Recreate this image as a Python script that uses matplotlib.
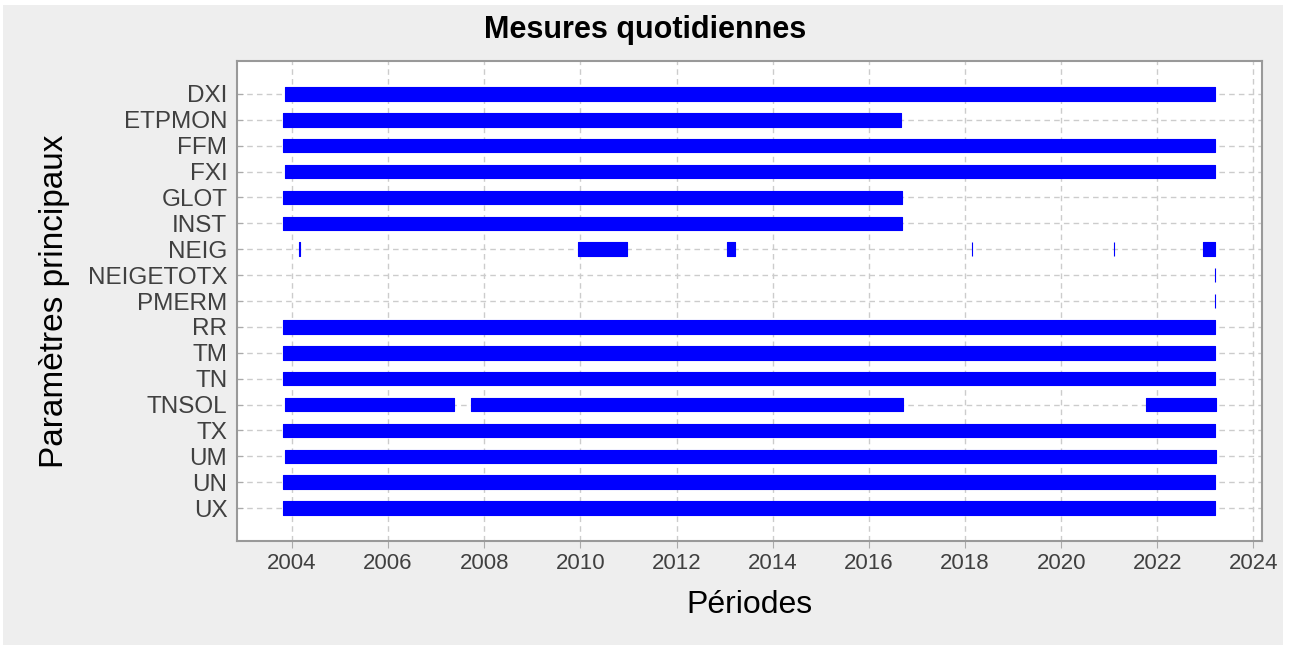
import matplotlib
matplotlib.use("Agg")
import matplotlib.pyplot as plt
import matplotlib.dates as mdates
from matplotlib.patches import Rectangle
from datetime import datetime

plt.rcParams['font.family'] = ['Liberation Sans', 'DejaVu Sans']

# parametres et periodes de mesure (debut, fin)
parametres = ['DXI', 'ETPMON', 'FFM', 'FXI', 'GLOT', 'INST', 'NEIG', 'NEIGETOTX',
              'PMERM', 'RR', 'TM', 'TN', 'TNSOL', 'TX', 'UM', 'UN', 'UX']

periodes = [
    [('2003-11-10', '2023-03-14')],
    [('2003-10-27', '2016-09-01')],
    [('2003-10-27', '2023-03-14')],
    [('2003-11-10', '2023-03-14')],
    [('2003-10-27', '2016-09-09')],
    [('2003-10-27', '2016-09-09')],
    [('2004-02-27', '2004-02-28'), ('2009-12-14', '2010-12-22'), ('2013-01-20', '2013-03-18'),
     ('2018-02-25', '2018-02-26'), ('2021-02-08', '2021-02-09'), ('2022-12-13', '2023-03-14')],
    [('2023-03-14', '2023-03-15')],
    [('2023-03-14', '2023-03-15')],
    [('2003-10-27', '2023-03-14')],
    [('2003-10-27', '2023-03-14')],
    [('2003-10-27', '2023-03-14')],
    [('2003-11-10', '2007-05-15'), ('2007-09-23', '2016-09-17'), ('2021-10-06', '2023-03-22')],
    [('2003-10-27', '2023-03-14')],
    [('2003-11-10', '2023-03-22')],
    [('2003-10-27', '2023-03-14')],
    [('2003-10-27', '2023-03-14')],
]

def d(s):
    return mdates.date2num(datetime.strptime(s, '%Y-%m-%d'))

fig = plt.figure(figsize=(12.9, 6.45), dpi=100, facecolor='white')
fig.patches.append(Rectangle((3 / 1290, 0), 1280 / 1290, 640 / 645, transform=fig.transFigure,
                             facecolor='#eeeeee', edgecolor='none', zorder=-10))
ax = fig.add_axes([237 / 1290, 1 - 541 / 645, 1025 / 1290, 480 / 645])
ax.set_facecolor('white')

for i, segs in enumerate(periodes):
    bars = [(d(a), d(b) - d(a)) for a, b in segs]
    ax.broken_barh(bars, (i - 0.26, 0.52), facecolors='#0000ff', edgecolor='#0000ff',
                   linewidth=0.8, zorder=3)

ax.set_yticks(range(len(parametres)))
ax.set_yticklabels(parametres)
ax.set_ylim(len(parametres) - 1 + 1.27, -1.27)
ax.set_xlim(d('2002-11-10'), d('2024-03-06'))
ax.xaxis.set_major_locator(mdates.YearLocator(2))
ax.xaxis.set_major_formatter(mdates.DateFormatter('%Y'))

ax.grid(True, linestyle=(0, (4, 3)), color='#cccccc', linewidth=1)
ax.set_axisbelow(True)
for s in ax.spines.values():
    s.set_color('#999999')
    s.set_linewidth(1.5)
ax.tick_params(axis='both', labelcolor='#404040', color='#aaaaaa')
ax.tick_params(axis='y', direction='in', length=4, labelsize=17.5, pad=7)
ax.tick_params(axis='x', direction='out', length=5, labelsize=16)

fig.suptitle('Mesures quotidiennes', fontsize=22, fontweight='bold', x=0.5, y=1 - 30 / 645, va='center')
ax.set_xlabel('Périodes', fontsize=23, va='center')
ax.xaxis.set_label_coords(0.5, (541 - 605) / 480)
ax.set_ylabel('Paramètres principaux', fontsize=24, va='center')
ax.yaxis.set_label_coords((55 - 237) / 1025, 0.5)

fig.savefig('out.png', dpi=100, facecolor=fig.get_facecolor())
